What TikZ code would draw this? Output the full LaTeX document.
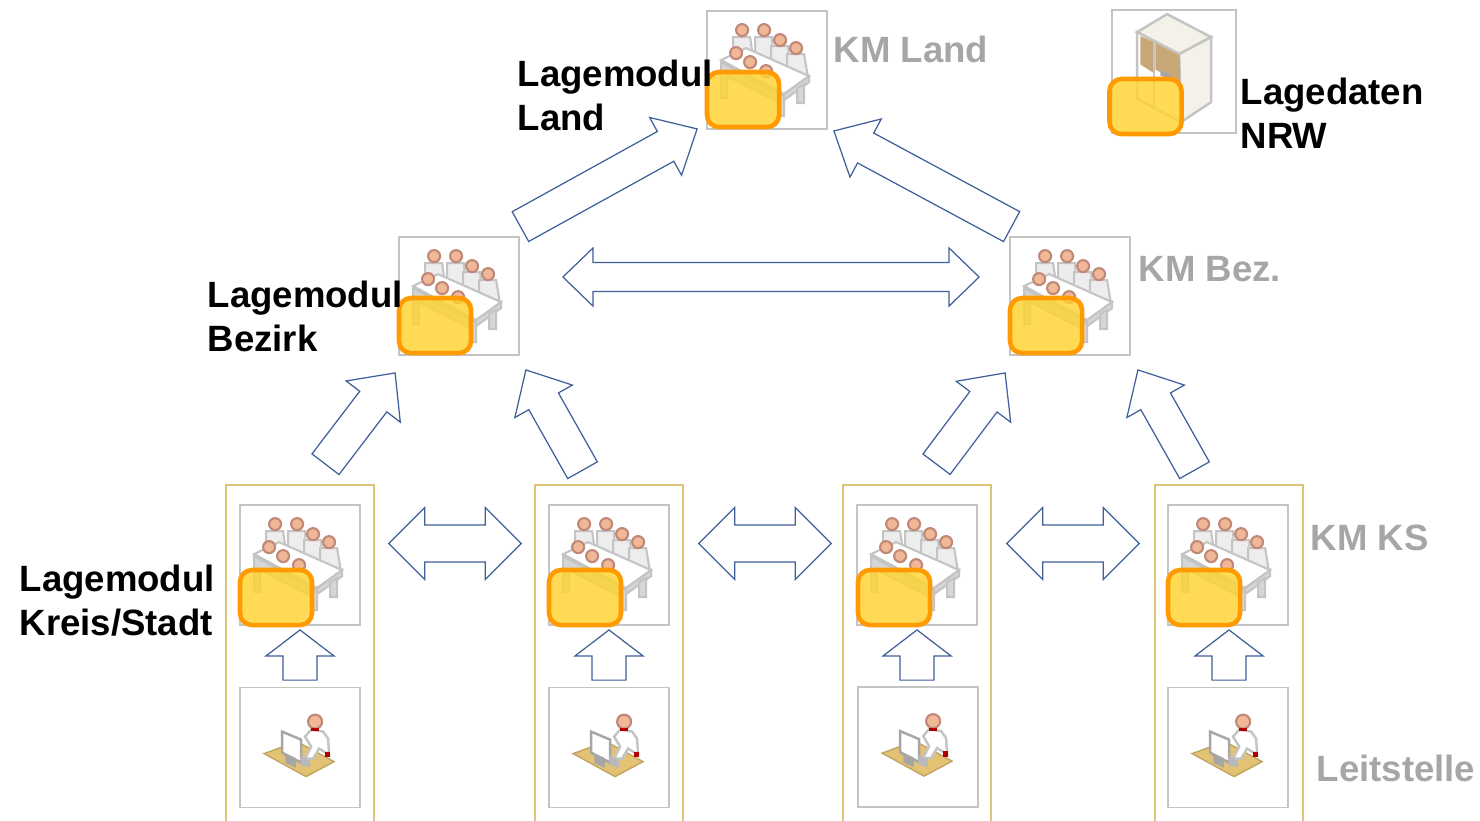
\documentclass[tikz,border=0pt]{standalone}
\usepackage{fontspec}
\setmainfont{Liberation Sans}
\usetikzlibrary{calc}

\definecolor{arrowblue}{HTML}{3F5F9A}
\definecolor{boxgray}{HTML}{C4C4C4}
\definecolor{colyellow}{HTML}{DEC477}
\definecolor{modfill}{HTML}{FFD430}
\definecolor{modline}{HTML}{FF9A00}
\definecolor{labgray}{HTML}{A6A6A6}
\definecolor{skin}{HTML}{F0B896}
\definecolor{headring}{HTML}{C08878}
\definecolor{shade}{HTML}{EDEDED}
\definecolor{deskfill}{HTML}{E3C274}
\definecolor{panelbrown}{HTML}{C9A877}
\definecolor{cream}{HTML}{F4F1E8}

\tikzset{
    iconbox/.style={draw=boxgray, line width=0.5pt, fill=white, minimum width=1.2cm, minimum height=1.18cm, inner sep=0pt},
    colbox/.style={draw=colyellow, line width=0.4pt, minimum width=1.48cm, minimum height=3.55cm, inner sep=0pt},
    modbox/.style={draw=modline, line width=1.3pt, fill=modfill, fill opacity=0.82, rounded corners=0.12cm, minimum width=0.72cm, minimum height=0.55cm, inner sep=0pt},
    blocklink/.style={draw=arrowblue, line width=0.35pt, fill=white},
    lab/.style={anchor=north west, inner sep=0pt, align=left, font=\fontsize{10.4}{12.5}\selectfont\bfseries},
    kmlab/.style={lab, text=labgray},
    person/.style={draw=headring, line width=0.6pt, fill=skin},
    body/.style={draw=boxgray, line width=0.6pt, fill=shade},
    meeting/.pic={
        \filldraw [body] (27,27) -- (44,27) -- (47,48) -- (27,42) -- cycle;
        \filldraw [body] (49,27) -- (66,27) -- (67,52) -- (49,46) -- cycle;
        \filldraw [body] (65,36) -- (82,36) -- (84,60) -- (65,54) -- cycle;
        \filldraw [body] (81,44) -- (98,44) -- (102,68) -- (81,60) -- cycle;
        \filldraw [person] (36,20) circle (6);
        \filldraw [person] (58,20) circle (6);
        \filldraw [person] (74,30) circle (6);
        \filldraw [person] (90,38) circle (6);
        \filldraw [fill=white, draw=boxgray, line width=0.6pt] (15,50) -- (40,38) -- (103,66) -- (78,84) -- cycle;
        \filldraw [body, fill=boxgray!70] (15,52) -- (78,86) -- (78,106) -- (72,106) -- (72,92) -- (21,66) -- (21,88) -- (15,88) -- cycle;
        \filldraw [body, fill=boxgray!70] (103,66) -- (103,72) -- (78,90) -- (78,84) -- cycle;
        \filldraw [body, fill=boxgray!70] (91,78) -- (98,74) -- (98,93) -- (91,93) -- cycle;
        \filldraw [person] (30,43) circle (6);
        \filldraw [person] (44,52) circle (6);
        \filldraw [person] (60,61) circle (6);
    },
    operator/.pic={
        \filldraw [draw=deskfill!85!black, line width=0.4pt, fill=deskfill] (25,67) -- (58,55) -- (95,75) -- (67,90) -- cycle;
        \filldraw [fill=white, draw=boxgray, line width=0.7pt] (66,50) -- (72,43) -- (84,45) -- (89,52) -- (90,68) -- (80,62) -- (74,72) -- (66,72) -- (72,60) -- cycle;
        \filldraw [red!70!black] (87,66) rectangle (90,70);
        \filldraw [person] (76,35) circle (7);
        \filldraw [red!70!black] (73,42.5) rectangle (79,44);
        \filldraw [fill=white, draw=gray!70, line width=0.7pt] (43,45) -- (62,53) -- (62,76) -- (43,66) -- cycle;
        \filldraw [gray!70] (47,68) -- (56,72) -- (56,80) -- (47,76) -- cycle;
        \filldraw [gray!55] (62,70) -- (70,74) -- (70,80) -- (62,78) -- cycle;
    },
    cabinet/.pic={
        \filldraw [draw=boxgray, line width=0.7pt, fill=cream] (26,23) -- (56,5) -- (100,28) -- (68,45) -- cycle;
        \filldraw [draw=boxgray, line width=0.7pt, fill=white] (26,23) -- (68,45) -- (70,113) -- (26,90) -- cycle;
        \filldraw [draw=boxgray, line width=0.7pt, fill=cream] (68,45) -- (100,28) -- (100,93) -- (70,113) -- cycle;
        \filldraw [panelbrown] (30,28) -- (41,33) -- (41,62) -- (30,55) -- cycle;
        \filldraw [panelbrown] (45,35) -- (68,47) -- (68,72) -- (45,60) -- cycle;
        \filldraw [gray!70] (50,62) -- (60,67) -- (60,70) -- (50,66) -- cycle;
        \draw [boxgray, line width=0.4pt] (43,32) -- (43,98);
    }
}

% tail, tip, half shaft, half head, head length (all in px)
\newcommand{\blockarrow}[5]{
    \coordinate (t) at #1;
    \coordinate (h) at #2;
    \draw [blocklink] ($(t)!#3*0.2845pt!90:(h)$)
        -- ($(h)!#5*0.2845pt!(t)!#3*0.2845pt!-90:(t)$)
        -- ($(h)!#5*0.2845pt!(t)!#4*0.2845pt!-90:(t)$)
        -- (h)
        -- ($(h)!#5*0.2845pt!(t)!#4*0.2845pt!90:(t)$)
        -- ($(h)!#5*0.2845pt!(t)!#3*0.2845pt!90:(t)$)
        -- ($(t)!#3*0.2845pt!-90:(h)$) -- cycle;
}
% left tip, right tip, half shaft, half head, head length
\newcommand{\doublearrow}[5]{
    \coordinate (t) at #1;
    \coordinate (h) at #2;
    \draw [blocklink] (t)
        -- ($(t)!#5*0.2845pt!(h)!#4*0.2845pt!90:(h)$)
        -- ($(t)!#5*0.2845pt!(h)!#3*0.2845pt!90:(h)$)
        -- ($(h)!#5*0.2845pt!(t)!#3*0.2845pt!-90:(t)$)
        -- ($(h)!#5*0.2845pt!(t)!#4*0.2845pt!-90:(t)$)
        -- (h)
        -- ($(h)!#5*0.2845pt!(t)!#4*0.2845pt!90:(t)$)
        -- ($(h)!#5*0.2845pt!(t)!#3*0.2845pt!90:(t)$)
        -- ($(t)!#5*0.2845pt!(h)!#3*0.2845pt!-90:(h)$)
        -- ($(t)!#5*0.2845pt!(h)!#4*0.2845pt!-90:(h)$)
        -- cycle;
}

\begin{document}
\begin{tikzpicture}[x=0.01cm, y=-0.01cm]
    \path [use as bounding box, clip] (0, 0) rectangle (1480, 820);

    % columns
    \node [colbox] (colA) at (300, 662.5) {};
    \node [colbox] (colB) at (609, 662.5) {};
    \node [colbox] (colC) at (917, 662.5) {};
    \node [colbox] (colD) at (1229, 662.5) {};

    % boxes
    \node [iconbox] (kmLand) at (767, 70) {};
    \node [iconbox, minimum width=1.24cm, minimum height=1.23cm] (store) at (1174, 71.5) {};
    \node [iconbox] (kmBezL) at (459, 296) {};
    \node [iconbox] (kmBezR) at (1070, 296) {};
    \node [iconbox, minimum height=1.2cm] (kmA) at (300, 565) {};
    \node [iconbox, minimum height=1.2cm] (kmB) at (609, 565) {};
    \node [iconbox, minimum height=1.2cm] (kmC) at (917, 565) {};
    \node [iconbox, minimum height=1.2cm] (kmD) at (1228, 565) {};
    \node [iconbox, minimum height=1.2cm] (leitA) at (300, 747.5) {};
    \node [iconbox, minimum height=1.2cm] (leitB) at (609, 747.5) {};
    \node [iconbox, minimum height=1.2cm] (leitC) at (918, 747) {};
    \node [iconbox, minimum height=1.2cm] (leitD) at (1228, 747.5) {};

    % icons
    \pic at (kmLand.north west) {meeting};
    \pic at (store.north west) {cabinet};
    \pic at (kmBezL.north west) {meeting};
    \pic at (kmBezR.north west) {meeting};
    \pic at (kmA.north west) {meeting};
    \pic at (kmB.north west) {meeting};
    \pic at (kmC.north west) {meeting};
    \pic at (kmD.north west) {meeting};
    \pic at (leitA.north west) {operator};
    \pic at (leitB.north west) {operator};
    \pic at (leitC.north west) {operator};
    \pic at (leitD.north west) {operator};

    % modules
    \node [modbox] (modLand) at (743, 99.5) {};
    \node [modbox] (modStore) at (1145.5, 106.5) {};
    \node [modbox] (modBezL) at (435, 325.5) {};
    \node [modbox] (modBezR) at (1046, 325.5) {};
    \node [modbox] (modA) at (276, 597.5) {};
    \node [modbox] (modB) at (585, 597.5) {};
    \node [modbox] (modC) at (894, 597.5) {};
    \node [modbox] (modD) at (1204, 597.5) {};

    % up to the land
    \blockarrow{($(kmBezL.north east)+(0.5, -9.5)$)}{($(kmLand.south west)+(-9, -1)$)}{17}{33}{36}
    \blockarrow{($(kmBezR.north west)+(2.5, -9.5)$)}{($(kmLand.south east)+(6, 1)$)}{17}{33}{36}
    \doublearrow{($(kmBezL.east)+(43, -19)$)}{($(kmBezR.west)+(-30, -19)$)}{14.5}{29}{30}

    % up to the districts
    \blockarrow{($(colA.north)+(25.5, -20)$)}{($(kmBezL.south west)+(-3, 17)$)}{17}{34}{36}
    \blockarrow{($(colB.north)+(-26.5, -14)$)}{($(kmBezL.south east)+(6, 14)$)}{17}{33}{36}
    \blockarrow{($(colC.north)+(19.5, -20)$)}{($(kmBezR.south west)+(-4, 17)$)}{17}{34}{36}
    \blockarrow{($(colD.north)+(-34.5, -14)$)}{($(kmBezR.south east)+(7, 14)$)}{17}{33}{36}

    % between the columns
    \doublearrow{($(colA.east)+(14, -119)$)}{($(colB.west)+(-13, -119)$)}{18.5}{36}{36}
    \doublearrow{($(colB.east)+(15, -119)$)}{($(colC.west)+(-11, -119)$)}{18.5}{36}{36}
    \doublearrow{($(colC.east)+(15, -119)$)}{($(colD.west)+(-15, -119)$)}{18.5}{36}{36}

    % up inside the columns
    \blockarrow{($(leitA.north)+(0, -6.5)$)}{($(kmA.south)+(0, 4)$)}{17}{34}{26}
    \blockarrow{($(leitB.north)+(0, -6.5)$)}{($(kmB.south)+(0, 4)$)}{17}{34}{26}
    \blockarrow{($(leitC.north)+(-1, -6)$)}{($(kmC.south)+(0, 4)$)}{17}{34}{26}
    \blockarrow{($(leitD.north)+(1, -6.5)$)}{($(kmD.south)+(1, 4)$)}{17}{34}{26}

    % labels
    \node [lab] (labLand) at (517, 59) {Lagemodul\\Land};
    \node [lab] (labStore) at (1240, 77) {Lagedaten\\NRW};
    \node [lab] (labBez) at (207, 280) {Lagemodul\\Bezirk};
    \node [lab] (labKreis) at (19, 564) {Lagemodul\\Kreis/Stadt};
    \node [kmlab] (txtLand) at (833, 35) {KM Land};
    \node [kmlab] (txtBez) at (1138, 256) {KM Bez.};
    \node [kmlab] (txtKs) at (1310, 524) {KM KS};
    \node [kmlab] (txtLeit) at (1316, 754) {Leitstelle};
\end{tikzpicture}
\end{document}
